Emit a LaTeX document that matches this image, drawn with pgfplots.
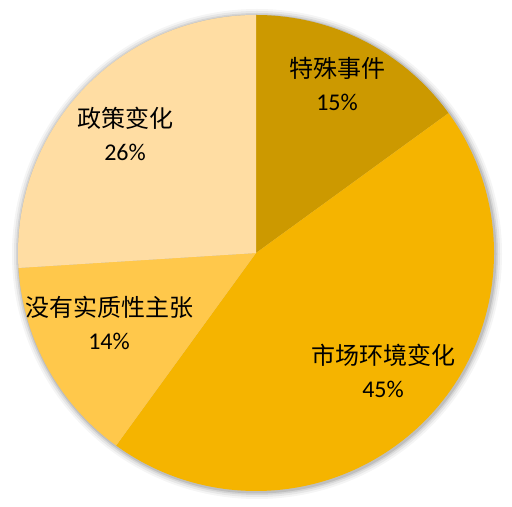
\documentclass[border=0pt]{standalone}
\usepackage{pgfplots}
\pgfplotsset{compat=1.18}
\usepackage{fontspec}
\setmainfont{Carlito}
\newfontfamily\cjk{Noto Sans CJK SC}

\definecolor{sliceA}{RGB}{204,153,0}
\definecolor{sliceB}{RGB}{245,180,0}
\definecolor{sliceC}{RGB}{255,200,75}
\definecolor{sliceD}{RGB}{255,221,163}

% pie centre and radius in pixel units of the 512x507 picture
\def\cx{256}
\def\cy{254}
\def\rad{238}

\begin{document}
\begin{tikzpicture}
\begin{axis}[
    width=512bp, height=507bp,
    scale only axis,
    xmin=0, xmax=512,
    ymin=0, ymax=507,
    hide axis,
    clip=false,
]
% soft shadow round the pie
\foreach \s/\o in {7/0.04,5/0.06,3/0.08,1.5/0.10}{
  \edef\temp{\noexpand\fill[black, opacity=\o] (axis cs:\cx+1,\cy-1) circle[radius=\rad bp+\s bp];}
  \temp
}

% slices: value in percent / colour, clockwise from 12 o'clock
\xdef\angA{90}
\foreach \v/\c in {15/sliceA,45/sliceB,14/sliceC,26/sliceD}{
  \pgfmathsetmacro\angB{\angA-3.6*\v}
  \edef\temp{\noexpand\fill[\c] (axis cs:\cx,\cy) -- ++(\angA:\rad bp)
    arc[start angle=\angA, end angle=\angB, radius=\rad bp] -- cycle;}
  \temp
  \xdef\angA{\angB}
}

\tikzset{lbl/.style={align=center, font=\fontsize{24bp}{33bp}\selectfont, inner sep=0pt}}
\node[lbl] at (axis cs:337,423) {{\cjk 特殊事件}\\15\%};
\node[lbl] at (axis cs:383,136) {{\cjk 市场环境变化}\\45\%};
\node[lbl] at (axis cs:109,184) {{\cjk 没有实质性主张}\\14\%};
\node[lbl] at (axis cs:125,373) {{\cjk 政策变化}\\26\%};
\end{axis}
\pgfresetboundingbox
\path (current axis.south west) rectangle (current axis.north east);
\end{tikzpicture}
\end{document}
